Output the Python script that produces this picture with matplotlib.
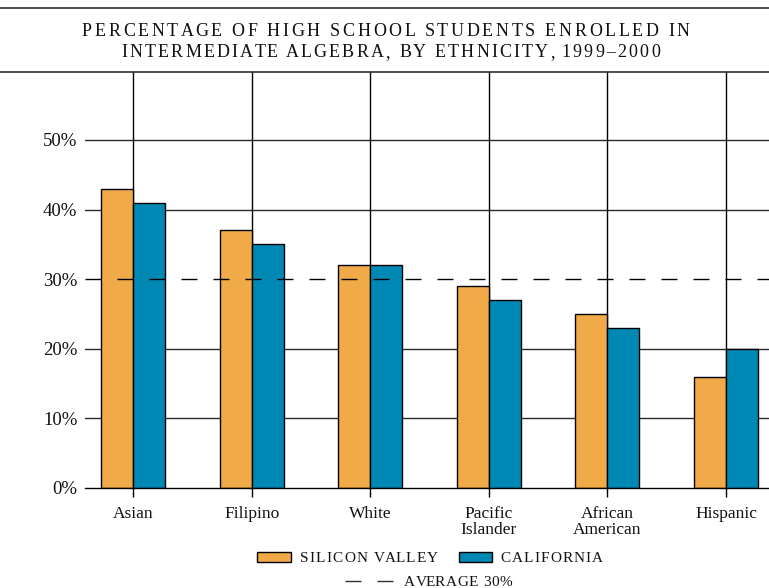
import matplotlib
matplotlib.use('Agg')
import matplotlib.pyplot as plt
from matplotlib.lines import Line2D
from matplotlib.patches import Rectangle
from matplotlib.textpath import TextToPath
from matplotlib.font_manager import FontProperties
import numpy as np

# ---------------- data ----------------
categories = ["Asian", "Filipino", "White", "Pacific\nIslander", "African\nAmerican", "Hispanic"]
silicon_valley = [43, 37, 32, 29, 25, 16]
california = [41, 35, 32, 27, 23, 20]
average = 30
y_ticks = [0, 10, 20, 30, 40, 50]
y_tick_labels = ["0%", "10%", "20%", "30%", "40%", "50%"]
title_lines = ["PERCENTAGE OF HIGH SCHOOL STUDENTS ENROLLED IN",
               "INTERMEDIATE ALGEBRA, BY ETHNICITY, 1999\u20132000"]
legend_labels = ["SILICON VALLEY", "CALIFORNIA", "AVERAGE 30%"]

# ---------------- setup ----------------
W, H = 769, 588
DPI = 100
fig = plt.figure(figsize=(W / DPI, H / DPI), dpi=DPI)
fig.patch.set_facecolor('white')


def fx(px):
    return px / W


def fy(py):
    return 1 - py / H


ORANGE = '#F0AB48'
BLUE = '#0088B5'
SERIF = 'Liberation Serif'
TXT = '#111111'
ttp = TextToPath()


def width_px(s, prop):
    w, h, d = ttp.get_text_width_height_descent(s, prop, ismath=False)
    return w * DPI / 72.0


def spaced_text(x_left, x_right, y_base, s, size):
    """Draw letter-spaced text so that it spans x_left..x_right (pixels)."""
    prop = FontProperties(family=SERIF, size=size)
    ref = width_px('I', prop)
    natural = width_px(s, prop)
    track = (x_right - x_left - natural) / max(len(s) - 1, 1)
    for i, c in enumerate(s):
        if c == ' ':
            continue
        off = 0 if i == 0 else width_px(s[:i] + 'I', prop) - ref
        fig.text(fx(x_left + off + i * track), fy(y_base), c, fontproperties=prop,
                 ha='left', va='baseline', color=TXT)


# ---------------- axes ----------------
ax = fig.add_axes([fx(85), fy(488), fx(769) - fx(85), fy(72) - fy(488)])
x = np.arange(len(categories))
bw = 0.27
XL = (-0.405, 5.363)
ax.bar(x - bw / 2, silicon_valley, bw, color=ORANGE, edgecolor='black', lw=1, zorder=3)
ax.bar(x + bw / 2, california, bw, color=BLUE, edgecolor='black', lw=1, zorder=3)

for yt in y_ticks[1:]:
    if yt == average:
        continue
    ax.axhline(yt, color='#2a2a2a', lw=1, zorder=1)
for xi in x:
    ax.axvline(xi, color='black', lw=1, zorder=2)

ax.plot(XL, [average, average], color='black', lw=1,
        linestyle=(0, (11.52, 11.52)), zorder=4, solid_capstyle='butt',
        dash_capstyle='butt', clip_on=False)

ax.set_xlim(*XL)
ax.set_ylim(0, 59.77)
for sp in ['top', 'right', 'left']:
    ax.spines[sp].set_visible(False)
ax.spines['bottom'].set_linewidth(1)
ax.spines['bottom'].set_zorder(5)

ax.set_xticks(x)
ax.set_xticklabels(categories, fontsize=12.5, family=SERIF, color=TXT, linespacing=1.0)
ax.tick_params(axis='x', length=6.5, width=1, pad=6.5, direction='out')
ax.set_yticks(y_ticks)
ax.set_yticklabels(y_tick_labels, fontsize=13.5, family=SERIF, color=TXT)
ax.tick_params(axis='y', length=0, pad=5.5)

# ---------------- title & rules ----------------
fig.add_artist(Line2D([0, 1], [fy(7.5), fy(7.5)], color='#333333', lw=1.2))
fig.add_artist(Line2D([0, 1], [fy(72), fy(72)], color='#333333', lw=1.2))
spaced_text(82, 690, 36, title_lines[0], 13)
spaced_text(121, 660, 57, title_lines[1], 13)

# ---------------- legend ----------------
fig.add_artist(Rectangle((fx(257), fy(562)), fx(291) - fx(257), fy(552) - fy(562),
                         facecolor=ORANGE, edgecolor='black', lw=1, transform=fig.transFigure))
spaced_text(300, 438, 562, legend_labels[0], 11)
fig.add_artist(Rectangle((fx(459), fy(562)), fx(492) - fx(459), fy(552) - fy(562),
                         facecolor=BLUE, edgecolor='black', lw=1, transform=fig.transFigure))
spaced_text(500, 603, 562, legend_labels[1], 11)
fig.add_artist(Line2D([fx(345), fx(393)], [fy(581), fy(581)], color='#333333', lw=1,
                      linestyle=(0, (11.52, 11.52))))
spaced_text(404, 512, 586, legend_labels[2], 11)

fig.savefig('out.png', dpi=DPI, facecolor='white')
